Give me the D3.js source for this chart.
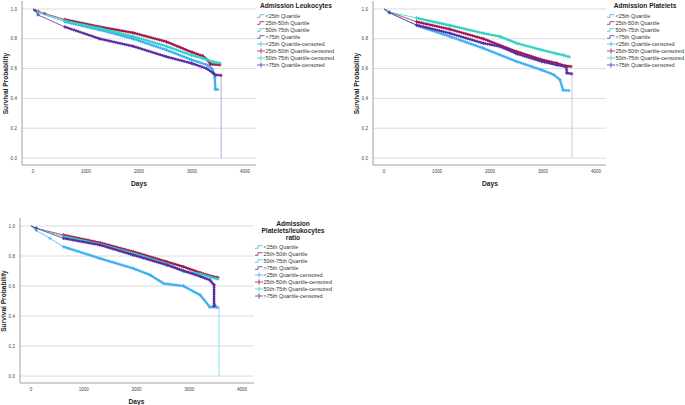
<!DOCTYPE html>
<html>
<head>
<meta charset="utf-8">
<script src="https://cdn.jsdelivr.net/npm/d3@7"></script>
<style>
  body { margin: 0; background: #fff; }
  svg { display: block; font-family: "Liberation Sans", Arial, sans-serif; }
</style>
</head>
<body>
<div id="chart"></div>
<script>
// series names / colours shared by all three panels
const seriesNames = ["<25th Quartile", "25th-50th Quartile", "50th-75th Quartile", ">75th Quartile"];
const seriesColors = ["#3fb0f4", "#a3194d", "#33d2c6", "#5b2ca3"];
const legendLabels = seriesNames.concat(seriesNames.map(d => d + "-censored"));
const xTicks = [0, 1000, 2000, 3000, 4000];
const yTicks = [0, 0.2, 0.4, 0.6, 0.8, 1.0];

// Admission Leukocytes  [days, survival]
const leukLow = [[0,1],[40,0.99],[100,0.975],[600,0.915],[1260,0.86],[1890,0.80],[2520,0.725],[2990,0.66],[3280,0.625],[3380,0.60],[3430,0.54],[3440,0.46],[3490,0.46]];
const leukMid1 = [[0,1],[100,0.985],[220,0.97],[600,0.93],[1260,0.88],[1890,0.84],[2520,0.78],[3000,0.71],[3200,0.685],[3300,0.655],[3350,0.63],[3530,0.625]];
const leukMid2 = [[0,1],[100,0.98],[600,0.92],[1260,0.87],[1890,0.815],[2520,0.75],[2990,0.69],[3200,0.67],[3400,0.645],[3530,0.636]];
const leukHigh = [[0,1],[40,0.99],[95,0.96],[600,0.88],[1260,0.80],[1890,0.75],[2520,0.68],[2990,0.636],[3280,0.60],[3400,0.57],[3450,0.557],[3550,0.555]];
const leukDrop = [3550, 0.555, 3];

// Admission Platelets
const pltLow = [[0,1],[100,0.975],[612,0.89],[1243,0.815],[1874,0.737],[2505,0.647],[2979,0.59],[3200,0.56],[3320,0.525],[3380,0.455],[3490,0.453]];
const pltMid1 = [[0,1],[100,0.98],[612,0.915],[1243,0.864],[1874,0.80],[2505,0.714],[2979,0.66],[3263,0.636],[3420,0.618],[3530,0.614]];
const pltMid2 = [[0,1],[100,0.98],[612,0.94],[1243,0.89],[1874,0.837],[2190,0.815],[2505,0.77],[2979,0.725],[3263,0.70],[3390,0.69],[3500,0.678]];
const pltHigh = [[0,1],[100,0.975],[612,0.893],[1243,0.837],[1874,0.77],[2190,0.748],[2505,0.70],[2979,0.647],[3263,0.625],[3440,0.612],[3450,0.57],[3546,0.565]];
const pltDrop = [3546, 0.565, 3];

// Admission Platelets/leukocytes ratio
const ratioLow = [[0,1],[100,0.97],[360,0.918],[614,0.862],[1310,0.784],[1943,0.717],[2260,0.673],[2513,0.617],[2890,0.60],[3209,0.539],[3390,0.46],[3545,0.457]];
const ratioMid1 = [[0,1],[100,0.985],[614,0.94],[1310,0.889],[1943,0.828],[2576,0.762],[2890,0.728],[3209,0.688],[3460,0.661],[3545,0.657]];
const ratioMid2 = [[0,1],[100,0.985],[614,0.93],[1310,0.878],[1943,0.817],[2576,0.747],[2890,0.697],[3209,0.68],[3545,0.645]];
const ratioHigh = [[0,1],[100,0.985],[614,0.918],[1310,0.873],[1943,0.806],[2576,0.74],[3209,0.664],[3390,0.64],[3470,0.607],[3470,0.47],[3490,0.47]];
const ratioDrop = [3564, 0.457, 0];

const panels = [
  { title: ["Admission Leukocytes"], series: [leukLow, leukMid1, leukMid2, leukHigh], drop: leukDrop, dropColor: "#b8a7de",
    spineX: 22, x0: 33, x1: 245, yTop: 1, y1: 9, y0: 158, spineY: 165, gridEnd: 256,
    titleX: 296, titleY: 8.3, legX: 257, legY: 16 },
  { title: ["Admission Platelets"], series: [pltLow, pltMid1, pltMid2, pltHigh], drop: pltDrop, dropColor: "#cfc4ea",
    spineX: 373, x0: 384, x1: 596, yTop: 1, y1: 9, y0: 158, spineY: 165, gridEnd: 606,
    titleX: 645, titleY: 8.3, legX: 607, legY: 16 },
  { title: ["Admission", "Platelets/leukocytes", "ratio"], series: [ratioLow, ratioMid1, ratioMid2, ratioHigh], drop: ratioDrop, dropColor: "#7fe2ea",
    spineX: 20, x0: 31, x1: 242, yTop: 218, y1: 226, y0: 376, spineY: 383, gridEnd: 254,
    titleX: 293, titleY: 226.3, legX: 255, legY: 247 }
];

function drawPanel(svg, p) {
  const x = d3.scaleLinear().domain([0, 4000]).range([p.x0, p.x1]);
  const y = d3.scaleLinear().domain([0, 1]).range([p.y0, p.y1]);
  const g = svg.append("g");

  g.selectAll("line.grid").data(yTicks).join("line")
    .attr("x1", p.spineX).attr("x2", p.gridEnd)
    .attr("y1", d => y(d)).attr("y2", d => y(d))
    .attr("stroke", "#dcdcdc").attr("stroke-width", 1);

  g.append("line").attr("x1", p.spineX).attr("x2", p.spineX).attr("y1", p.yTop).attr("y2", p.spineY)
    .attr("stroke", "#a0a0a0");
  g.append("line").attr("x1", p.spineX).attr("x2", p.gridEnd).attr("y1", p.spineY).attr("y2", p.spineY)
    .attr("stroke", "#a0a0a0");

  g.selectAll("text.yt").data(yTicks).join("text")
    .attr("x", p.spineX - 5).attr("y", d => y(d) + 1.6)
    .attr("text-anchor", "end").attr("font-size", 4.6).attr("fill", "#444")
    .text(d => d3.format(".1f")(d).replace(".", ","));
  g.selectAll("text.xt").data(xTicks).join("text")
    .attr("x", d => x(d)).attr("y", p.spineY + 7.5)
    .attr("text-anchor", "middle").attr("font-size", 4.6).attr("fill", "#444")
    .text(d => d);

  g.append("text").attr("transform", `translate(${p.spineX - 14},${(p.y0 + p.y1) / 2}) rotate(-90)`)
    .attr("text-anchor", "middle").attr("font-size", 6.6).attr("font-weight", "bold").attr("fill", "#222")
    .text("Survival Probability");
  g.append("text").attr("x", (p.x0 + p.x1) / 2).attr("y", p.spineY + 21)
    .attr("text-anchor", "middle").attr("font-size", 6.6).attr("font-weight", "bold").attr("fill", "#222")
    .text("Days");

  // final drop to zero
  g.append("line").attr("x1", x(p.drop[0])).attr("x2", x(p.drop[0]))
    .attr("y1", y(p.drop[1])).attr("y2", y(0))
    .attr("stroke", p.dropColor).attr("stroke-width", 1);

  const line = d3.line().x(d => x(d[0])).y(d => y(d[1]));
  p.series.forEach((s, i) => {
    const c = seriesColors[i];
    g.append("path").attr("d", line(s)).attr("fill", "none").attr("stroke", c).attr("stroke-width", 0.9).attr("opacity", 0.85);
    // densely censored part of the curve: solid core plus bead texture of "+" marks
    const dense = s.filter(d => d[0] >= 590);
    g.append("path").attr("d", line(dense)).attr("fill", "none").attr("stroke", c).attr("stroke-width", 2.1);
    g.append("path").attr("d", line(dense)).attr("fill", "none").attr("stroke", c).attr("stroke-width", 3.3)
      .attr("stroke-dasharray", "0.7 1.6").attr("opacity", 0.8);
    g.selectAll(null).data(s.slice(1)).join("path")
      .attr("d", d => `M${x(d[0]) - 1.6},${y(d[1])}h3.2M${x(d[0])},${y(d[1]) - 1.6}v3.2`)
      .attr("stroke", c).attr("stroke-width", 0.9);
  });

  // legend
  p.title.forEach((t, i) => {
    g.append("text").attr("x", p.titleX).attr("y", p.titleY + i * 6.8)
      .attr("text-anchor", "middle").attr("font-size", 6.6).attr("font-weight", "bold").attr("fill", "#222")
      .text(t);
  });
  legendLabels.forEach((lab, i) => {
    const cy = p.legY + i * 7;
    const c = seriesColors[i % 4];
    if (i < 4) {
      g.append("path").attr("d", `M${p.legX},${cy + 1.3}h3v-2.6h4.5`).attr("fill", "none").attr("stroke", c).attr("stroke-width", 0.8);
    } else {
      g.append("path").attr("d", `M${p.legX},${cy}h8M${p.legX + 4},${cy - 2.6}v5.2`).attr("stroke", c).attr("stroke-width", 0.8);
    }
    g.append("text").attr("x", p.legX + 8.5).attr("y", cy + 1.8)
      .attr("font-size", 5.5).attr("fill", "#333").text(lab);
  });
}

document.addEventListener("DOMContentLoaded", () => {
  const svg = d3.select("#chart").append("svg").attr("width", 685).attr("height", 405);
  panels.forEach(p => drawPanel(svg, p));
});
</script>
</body>
</html>
